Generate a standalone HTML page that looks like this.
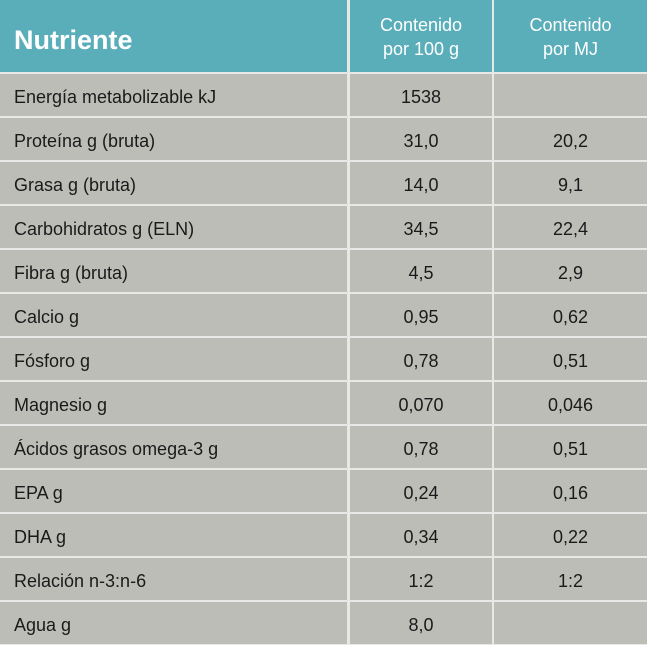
<!DOCTYPE html>
<html><head><meta charset="utf-8"><style>
body{margin:0;background:#e8e8e6;width:647px;height:645px;overflow:hidden;font-family:"Liberation Sans",sans-serif}
.c{position:absolute;display:flex;align-items:center;box-sizing:border-box;color:#1a1a1a;font-size:18px;padding-top:5px}
.h{background:#5aaeb9;color:#fff;padding-top:2px}
.g{background:#bdbdb8}
.l{padding-left:14px}
.m{justify-content:center;text-align:center}
</style></head><body>
<div id="t"></div>
<script>
const nutrients=["Energía metabolizable kJ","Proteína g (bruta)","Grasa g (bruta)","Carbohidratos g (ELN)","Fibra g (bruta)","Calcio g","Fósforo g","Magnesio g","Ácidos grasos omega-3 g","EPA g","DHA g","Relación n-3:n-6","Agua g"];
const per100=["1538","31,0","14,0","34,5","4,5","0,95","0,78","0,070","0,78","0,24","0,34","1:2","8,0"];
const perMJ=["","20,2","9,1","22,4","2,9","0,62","0,51","0,046","0,51","0,16","0,22","1:2",""];
const t=document.getElementById('t');
function cell(x,y,w,h,cls,html,name){const d=document.createElement('div');d.className='c '+cls;d.style.left=x+'px';d.style.top=y+'px';d.style.width=w+'px';d.style.height=h+'px';d.innerHTML=html;


t.appendChild(d);}
cell(0,0,347,72,'h l','<b style="font-size:27px;position:relative;top:3px">Nutriente</b>','header-nutrient');
cell(350,0,142,72,'h m','<span style="line-height:24px;font-size:18px">Contenido<br>por 100 g</span>','header-per-100g');
cell(494,0,153,72,'h m','<span style="line-height:24px;font-size:18px">Contenido<br>por MJ</span>','header-per-mj');
nutrients.forEach((n,i)=>{const y=74+44*i;
cell(0,y,347,42,'g l',n,'nutrient-name');
cell(350,y,142,42,'g m',per100[i],'value-per-100g');
cell(494,y,153,42,'g m',perMJ[i],'value-per-mj');});
</script>
</body></html>
